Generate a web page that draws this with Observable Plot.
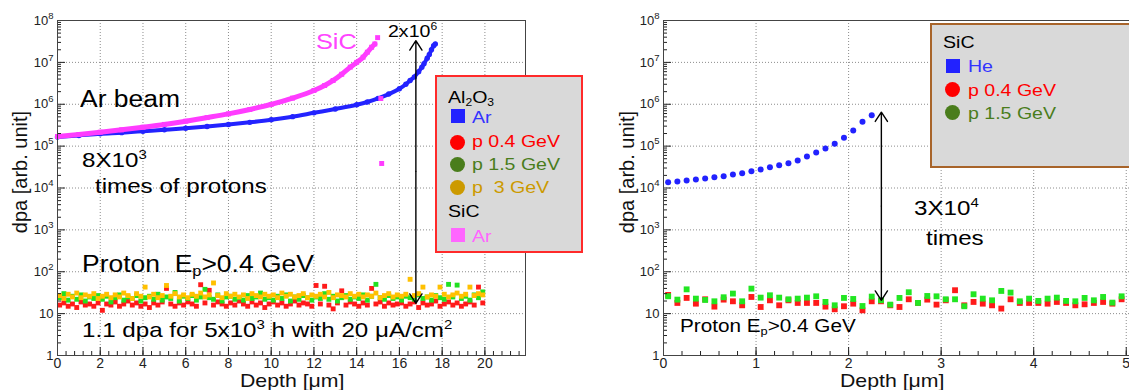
<!DOCTYPE html>
<html>
<head>
<meta charset="utf-8">
<script src="https://cdn.jsdelivr.net/npm/d3@7"></script>
<script src="https://cdn.jsdelivr.net/npm/@observablehq/plot@0.6"></script>
<style>
html,body{margin:0;padding:0;background:#fff;}
#wrap{position:relative;width:1129px;height:390px;overflow:hidden;font-family:"Liberation Sans",Arial,Helvetica,sans-serif;background:#fff;}
.panel{position:absolute;top:0;}
.t{position:absolute;white-space:nowrap;line-height:1;transform-origin:0 0;}
.t sup{font-size:0.62em;position:relative;top:-0.62em;vertical-align:baseline;line-height:0;}
.t sub{font-size:0.62em;position:relative;top:0.28em;vertical-align:baseline;line-height:0;}
.box{position:absolute;box-sizing:border-box;background:#d9d9d9;}
.sw{position:absolute;}
.yt{position:absolute;white-space:nowrap;line-height:1;transform:translate(-50%,-50%) rotate(-90deg);color:#111;}
</style>
</head>
<body>
<div id="wrap"></div>
<script>
// ---------------- data ----------------
// Left panel: Ar beam in Al2O3 (blue) and SiC (magenta)
const arDepthAl = [0,1,2,3,4,5,6,7,8,9,10,11,12,13,14,14.5,15,15.5,16,16.3,16.5,16.7,16.9,17.05,17.15,17.3,17.4,17.5,17.6,17.68];
const arDpaAl   = [1.65e5,1.8e5,1.97e5,2.1e5,2.27e5,2.46e5,2.68e5,2.95e5,3.28e5,3.7e5,4.25e5,5.05e5,6.24e5,7.7e5,9.7e5,1.13e6,1.38e6,1.75e6,2.34e6,3.0e6,3.7e6,4.5e6,6.0e6,7.7e6,9.3e6,1.25e7,1.55e7,2.0e7,2.5e7,2.75e7];
const arDepthSiC = [0,1,2,3,4,5,6,7,8,9,10,11,12,12.5,12.9,13.3,13.7,14.0,14.3,14.5,14.7,14.85];
const arDpaSiC   = [1.7e5,1.9e5,2.15e5,2.45e5,2.83e5,3.3e5,3.94e5,4.8e5,5.9e5,7.5e5,9.9e5,1.4e6,2.13e6,2.8e6,3.7e6,5.2e6,7.7e6,1.0e7,1.33e7,1.75e7,2.3e7,2.75e7];
const sicExtraDepth = [14.98,15.13,15.17];
const sicExtraDpa   = [3.9e7,1.37e6,3.85e4];

// Left panel: protons in Al2O3
const protonDepthL = [0.1,0.3,0.5,0.7,0.9,1.1,1.3,1.5,1.7,1.9,2.1,2.3,2.5,2.7,2.9,3.1,3.3,3.5,3.7,3.9,
 4.1,4.3,4.5,4.7,4.9,5.1,5.3,5.5,5.7,5.9,6.1,6.3,6.5,6.7,6.9,7.1,7.3,7.5,7.7,7.9,
 8.1,8.3,8.5,8.7,8.9,9.1,9.3,9.5,9.7,9.9,10.1,10.3,10.5,10.7,10.9,11.1,11.3,11.5,11.7,11.9,
 12.1,12.3,12.5,12.7,12.9,13.1,13.3,13.5,13.7,13.9,14.1,14.3,14.5,14.7,14.9,15.1,15.3,15.5,15.7,15.9,
 16.1,16.3,16.5,16.7,16.9,17.1,17.3,17.5,17.7,17.9,18.1,18.3,18.5,18.7,18.9,19.1,19.3,19.5,19.7,19.9];
const p04L = [16,18,15,17,14,19,16,17,15,18, 12,17,16,19,15,17,20,16,18,15, 17,14,18,16,19,40,17,15,18,16,
 19,17,15,49,18,36,16,19,17,15, 18,16,20,17,15,19,16,18,14,17, 19,16,18,15,17,20,16,18,17,15,
 47,17,45,16,13,18,35,16,19,17, 15,18,16,40,17,19,15,18,16,17, 18,15,17,19,14,18,16,17,20,15, 17,19,16,18,15,17,19,16,43,18];
const p15L = [24,30,21,26,22,28,20,25,23,27, 22,26,19,24,28,21,25,23,27,20, 24,26,22,29,21,25,23,32,20,26,
 23,27,21,25,38,24,22,28,20,25, 26,22,24,21,27,23,25,31,22,24, 21,26,23,28,20,25,22,27,24,21,
 25,23,30,22,26,20,24,27,22,25, 23,28,21,26,50,24,22,27,23,25, 21,26,24,22,28,23,25,21,27,24, 22,50,25,48,23,26,21,28,24,33];
const p3L  = [27,23,29,25,31,24,28,26,30,23, 26,29,24,28,25,31,27,23,30,26, 43,25,29,24,27,47,26,30,25,28,
 24,29,26,31,25,28,54,27,24,30, 26,29,25,28,23,30,27,25,29,26, 28,24,31,26,29,25,27,30,24,28,
 26,29,25,32,24,28,27,25,30,26, 29,25,28,26,31,24,27,30,25,28, 26,29,66,27,30,43,25,28,26,43, 29,25,28,31,26,29,43,27,30,28];

// Right panel: He beam in SiC
const heDepth = [0.05,0.15,0.25,0.35,0.45,0.55,0.65,0.75,0.85,0.95,1.05,1.15,1.25,1.35,1.45,1.55,1.65,1.75,1.85,1.95,2.05,2.15,2.25];
const heDpa = [1.38e4,1.43e4,1.51e4,1.6e4,1.69e4,1.81e4,1.92e4,2.1e4,2.26e4,2.52e4,2.77e4,3.14e4,3.51e4,3.92e4,4.54e4,5.65e4,7.05e4,8.78e4,1.14e5,1.58e5,2.36e5,3.81e5,5.48e5];

// Right panel: protons in SiC
const protonDepthR = [0.05,0.15,0.25,0.35,0.45,0.55,0.65,0.75,0.85,0.95,1.05,1.15,1.25,1.35,1.45,1.55,1.65,1.75,1.85,1.95,
 2.05,2.15,2.25,2.35,2.45,2.55,2.65,2.75,2.85,2.95,3.05,3.15,3.25,3.35,3.45,3.55,3.65,3.75,3.85,3.95,
 4.05,4.15,4.25,4.35,4.45,4.55,4.65,4.75,4.85,4.95];
const p04R = [28,18.0,23.7,17.3,22.0,14.7,21.6,19.7,15.8,25.0, 14.4,20.8,15.8,20.8,18.0,18.0,18.0,14.7,12.7,15.0,
 17.3,12.0,19.7,19.7,15.8,14.4,22.0,18.0,21.6,16.4, 20.8,36.2,15.8,19.0,17.3,15.8,13.2,22.0,18.0,18.0,
 18.0,17.3,19.0,18.0,15.8,16.7,18.0,19.0,17.3,22.0];
const p15R = [26,21.6,38,22.8,21.2,19.7,24.6,30.1,19.7,39.5, 24.1,27.4,24.1,22.0,22.8,24.1,25.9,19.0,15.8,23.7,
 22.4,15.2,25.5,20.8,16.4,23.7,32.4,18.0,26.4,25.9, 22.0,22.0,15.0,29.0,22.8,20.8,34.8,31.8,19.7,22.8,
 20.1,22.8,24.1,20.1,19.7,23.7,20.8,25.0,18.3,25.9];

// axis ticks
const yMajor = [1,10,1e2,1e3,1e4,1e5,1e6,1e7,1e8];
const xMajorL = [0,2,4,6,8,10,12,14,16,18,20];
const xMajorR = [0,1,2,3,4,5];

// annotation arrows (data coordinates)
const arrowsL = [{x:16.77, from:2.5e4, to:3.3e7},{x:16.77, from:2.5e4, to:17.6}];
const arrowsR = [{x:2.354, from:3.7e3, to:6.5e5},{x:2.354, from:3.7e3, to:20.8}];

// ---------------- drawing ----------------
const yMinor = [];
for (let k = 0; k < 8; k++) for (let m = 2; m <= 9; m++) yMinor.push(m * Math.pow(10, k));
const xMinorL = d3.range(0, 55).map(k => +(k * 0.4).toFixed(2));
const xMinorR = d3.range(0, 26).map(k => +(k * 0.2).toFixed(2));

function logFmt(d) {
  if (d === 1) return "1";
  if (d === 10) return "10";
  return "10^" + Math.round(Math.log10(d));
}

function panel({width, marginLeft, marginRight, xDomain, xMajor, xMinor, marks}) {
  const gridStyle = {stroke: "#8c8c8c", strokeOpacity: 1, strokeWidth: 1, strokeDasharray: "1,2"};
  const svg = Plot.plot({
    width, height: 390, marginLeft, marginRight, marginTop: 20, marginBottom: 35,
    style: {background: "transparent", fontFamily: '"Liberation Sans", Arial, sans-serif', color: "#222"},
    x: {domain: xDomain},
    y: {type: "log", domain: [1, 1e8]},
    marks: [
      Plot.gridX(xMajor, gridStyle),
      Plot.gridY(yMajor, gridStyle),
      ...marks,
      Plot.axisX(xMinor, {tickSize: -4, tickFormat: () => "", label: null}),
      Plot.axisX(xMajor, {tickSize: -8, tickPadding: 11, fontSize: 14, tickFormat: d => String(d), label: null}),
      Plot.axisY(yMinor, {tickSize: -4, tickFormat: () => "", label: null}),
      Plot.axisY(yMajor, {tickSize: -8, tickPadding: 12, fontSize: 13, tickFormat: logFmt, label: null}),
      Plot.frame({stroke: "#444"})
    ]
  });
  d3.select(svg).selectAll("text").each(function () {
    const m = /^10\^(\d)$/.exec(this.textContent);
    if (m) {
      this.textContent = "";
      const el = d3.select(this);
      el.append("tspan").text("10");
      el.append("tspan").attr("dy", "-6").attr("font-size", "9.5").text(m[1]);
    }
  });
  return svg;
}

const wrap = document.getElementById("wrap");

const left = panel({
  width: 560, marginLeft: 57, marginRight: 35, xDomain: [0, 21.9], xMajor: xMajorL, xMinor: xMinorL,
  marks: [
    Plot.dot(p04L, {x: protonDepthL, y: p04L, symbol: "square", r: 2.75, fill: "#ff1a1a"}),
    Plot.dot(p15L, {x: protonDepthL, y: p15L, symbol: "square", r: 2.75, fill: "#22e022"}),
    Plot.dot(p3L,  {x: protonDepthL, y: p3L,  symbol: "square", r: 2.75, fill: "#ffc000"}),
    Plot.line(arDpaAl, {x: arDepthAl, y: arDpaAl, stroke: "#2323ff", strokeWidth: 4, curve: "monotone-x"}),
    Plot.dot(arDpaAl, {x: arDepthAl, y: arDpaAl, r: 2.7, fill: "#2323ff"}),
    Plot.line(arDpaSiC, {x: arDepthSiC, y: arDpaSiC, stroke: "#ff3cff", strokeWidth: 5, curve: "monotone-x"}),
    Plot.dot(arDpaSiC, {x: arDepthSiC, y: arDpaSiC, symbol: "square", r: 2.8, fill: "#ff3cff"}),
    Plot.dot(sicExtraDpa, {x: sicExtraDepth, y: sicExtraDpa, symbol: "square", r: 2.8, fill: "#ff3cff"}),
    Plot.arrow(arrowsL, {x1: "x", x2: "x", y1: "from", y2: "to", stroke: "#000", strokeWidth: 1.4, headLength: 12, headAngle: 66})
  ]
});
left.classList.add("panel");
left.style.left = "0px";
wrap.appendChild(left);

const right = panel({
  width: 580, marginLeft: 103, marginRight: 5, xDomain: [0, 5.1], xMajor: xMajorR, xMinor: xMinorR,
  marks: [
    Plot.dot(p04R, {x: protonDepthR, y: p04R, symbol: "square", r: 3.3, fill: "#ff1a1a"}),
    Plot.dot(p15R, {x: protonDepthR, y: p15R, symbol: "square", r: 3.3, fill: "#22e622"}),
    Plot.dot(heDpa, {x: heDepth, y: heDpa, r: 3, fill: "#2222ff"}),
    Plot.arrow(arrowsR, {x1: "x", x2: "x", y1: "from", y2: "to", stroke: "#000", strokeWidth: 1.4, headLength: 12, headAngle: 66})
  ]
});
right.classList.add("panel");
right.style.left = "560px";
wrap.appendChild(right);

// ---------------- text, titles, legends ----------------
function txt(x, base, f, html, color = "#000", sx = 1.15) {
  const d = document.createElement("div");
  d.className = "t";
  d.style.left = x + "px";
  d.style.top = (base - 0.8465 * f) + "px";
  d.style.fontSize = f + "px";
  d.style.color = color;
  d.style.transform = `scaleX(${sx})`;
  d.innerHTML = html;
  wrap.appendChild(d);
}
function ytitle(cx, cy, f, s) {
  const d = document.createElement("div");
  d.className = "yt";
  d.style.left = cx + "px";
  d.style.top = cy + "px";
  d.style.fontSize = f + "px";
  d.textContent = s;
  wrap.appendChild(d);
}
function box(x, y, w, h, border) {
  const d = document.createElement("div");
  d.className = "box";
  Object.assign(d.style, {left: x + "px", top: y + "px", width: w + "px", height: h + "px", border: "2px solid " + border});
  wrap.appendChild(d);
}
function swatch(x, y, s, color, round) {
  const d = document.createElement("div");
  d.className = "sw";
  Object.assign(d.style, {left: x + "px", top: y + "px", width: s + "px", height: s + "px", background: color, borderRadius: round ? "50%" : "0"});
  wrap.appendChild(d);
}

// axis titles
txt(240, 388, 18.5, "Depth [μm]", "#111");
txt(840, 388, 18.5, "Depth [μm]", "#111");
ytitle(20, 172, 20, "dpa [arb. unit]");
ytitle(627, 172, 20, "dpa [arb. unit]");

// left annotations
txt(316, 50, 22, "SiC", "#ff44ff");
txt(388, 37, 17, "2x10<sup>6</sup>");
txt(80, 107, 23, "Ar beam");
txt(82, 167, 21, "8X10<sup>3</sup>");
txt(95, 193, 21, "times of protons");
txt(82, 272, 23, "Proton&nbsp; E<sub>p</sub>&gt;0.4 GeV");
txt(82, 337, 21, "1.1 dpa for 5x10<sup>3</sup> h with 20 μA/cm<sup>2</sup>");

// right annotations
txt(914, 215, 21, "3X10<sup>4</sup>");
txt(926, 245, 21, "times");
txt(680, 332, 18, "Proton E<sub>p</sub>&gt;0.4 GeV");

// left legend
box(435, 75, 148, 178, "#ff2a2a");
txt(448, 103, 17, "Al<sub>2</sub>O<sub>3</sub>");
swatch(451, 109, 14, "#2222ff", false); txt(472, 123, 17, "Ar", "#3333ff");
swatch(450, 135, 15, "#ff0000", true);  txt(472, 147, 17, "p 0.4 GeV", "#ff0000");
swatch(450, 157, 15, "#4a7d1c", true);  txt(472, 170, 17, "p 1.5 GeV", "#4a7d1c");
swatch(450, 180, 15, "#cc9a00", true);  txt(472, 193, 17, "p &nbsp;3 GeV", "#cc9a00");
txt(448, 217, 17, "SiC");
swatch(451, 228, 14, "#ff66ff", false); txt(472, 242, 17, "Ar", "#ff66ff");

// right legend
box(930, 23, 230, 145, "#a8642a");
txt(943, 48, 17, "SiC");
swatch(946, 59, 14, "#2222ff", false); txt(968, 72, 17, "He", "#3333ff");
swatch(945, 82, 15, "#ff0000", true);  txt(968, 96, 17, "p 0.4 GeV", "#ff0000");
swatch(945, 105, 15, "#4a7d1c", true); txt(968, 119, 17, "p 1.5 GeV", "#4a7d1c");
</script>
</body>
</html>
